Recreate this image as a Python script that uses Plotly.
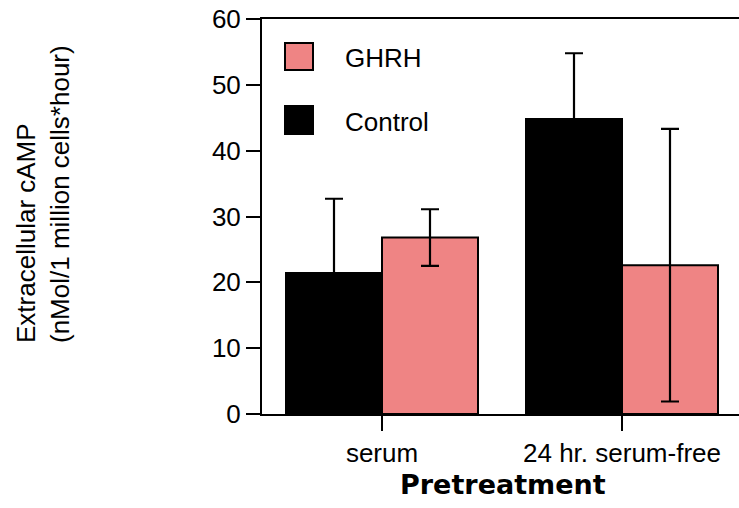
import plotly.graph_objects as go

# ---- data ----
categories = ["serum", "24 hr. serum-free"]
control_values = [21.4, 44.8]
control_errors = [11.3, 10.0]
ghrh_values = [26.8, 22.6]
ghrh_errors = [4.3, 20.7]
y_ticks = [0, 10, 20, 30, 40, 50, 60]

# ---- geometry helpers (pixel -> paper) ----
W, H = 739, 508
ML, MR, MT, MB = 262, 0, 19, 94
PW, PH = W - ML - MR, H - MT - MB


def xp(px):
    return (px - ML) / PW


def yp(py):
    return (H - MB - py) / PH


FONT = "Arial, Liberation Sans, sans-serif"
PINK = "#EF8484"

fig = go.Figure()
fig.add_trace(go.Bar(
    name="Control", x=categories, y=control_values,
    marker=dict(color="black", line=dict(color="black", width=2)),
    error_y=dict(type="data", array=control_errors, visible=True,
                 color="black", thickness=2.2, width=9),
    showlegend=False,
))
fig.add_trace(go.Bar(
    name="GHRH", x=categories, y=ghrh_values,
    marker=dict(color=PINK, line=dict(color="black", width=2)),
    error_y=dict(type="data", array=ghrh_errors, visible=True,
                 color="black", thickness=2.2, width=9),
    showlegend=False,
))

shapes = [
    dict(type="rect", xref="paper", yref="paper",
         x0=xp(285), x1=xp(313), y0=yp(70), y1=yp(43),
         fillcolor=PINK, line=dict(color="black", width=2)),
    dict(type="rect", xref="paper", yref="paper",
         x0=xp(285), x1=xp(313), y0=yp(134), y1=yp(106),
         fillcolor="black", line=dict(color="black", width=2)),
]

annotations = [
    dict(text="GHRH", xref="paper", yref="paper", x=xp(343), y=yp(58),
         xanchor="left", yanchor="middle", showarrow=False,
         font=dict(family=FONT, size=26, color="black")),
    dict(text="Control", xref="paper", yref="paper", x=xp(343), y=yp(122),
         xanchor="left", yanchor="middle", showarrow=False,
         font=dict(family=FONT, size=26, color="black")),
    dict(text="<b>Pretreatment</b>", xref="paper", yref="paper",
         x=xp(503), y=yp(484), xanchor="center", yanchor="middle",
         showarrow=False,
         font=dict(family="DejaVu Sans, sans-serif", size=27, color="black")),
    dict(text="Extracellular cAMP<br>(nMol/1 million cells*hour)",
         xref="paper", yref="paper", x=xp(43), y=yp(194),
         xanchor="center", yanchor="middle", textangle=-90, align="left",
         showarrow=False,
         font=dict(family=FONT, size=26, color="black")),
]

fig.update_layout(
    width=W, height=H,
    margin=dict(l=ML, r=MR, t=MT, b=MB, pad=0),
    paper_bgcolor="white", plot_bgcolor="white",
    barmode="group", bargap=0.2, bargroupgap=0,
    shapes=shapes, annotations=annotations,
    font=dict(family=FONT, size=26, color="black"),
    xaxis=dict(
        type="category", range=[-0.5, -0.5 + PW / 240.0],
        showline=True, linecolor="black", linewidth=2, mirror=True,
        ticks="outside", ticklen=15, tickwidth=2, tickcolor="black",
        showgrid=False, zeroline=False,
        tickfont=dict(family=FONT, size=26, color="black"),
    ),
    yaxis=dict(
        range=[0, 60], tickvals=y_ticks,
        showline=True, linecolor="black", linewidth=2,
        ticks="outside", ticklen=14, tickwidth=2, tickcolor="black",
        showgrid=False, zeroline=False,
        tickfont=dict(family=FONT, size=26, color="black"),
    ),
)

fig.write_html(
    "out.html",
    config={"displayModeBar": False},
    post_script="document.body.style.margin='0';document.body.style.overflow='hidden';",
)
